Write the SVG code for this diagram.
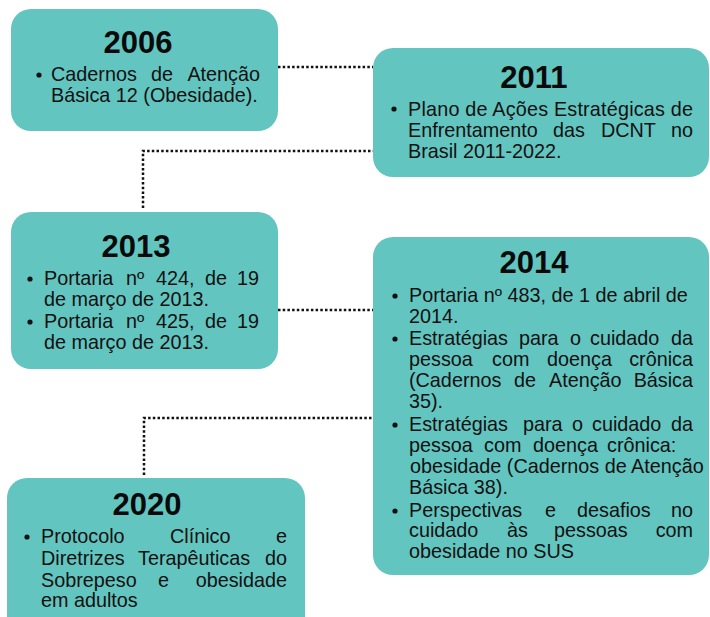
<svg xmlns="http://www.w3.org/2000/svg" width="710" height="617" viewBox="0 0 710 617">
<style>
.box{fill:#63C5C0}
.t{font-family:"Liberation Sans",Arial,sans-serif;font-weight:bold;font-size:31px;fill:#0a0a0a;text-anchor:middle}
.b{font-family:"Liberation Sans",Arial,sans-serif;font-size:19.8px;fill:#111}
.e{text-anchor:end}
.dot{fill:#111}
.c{fill:none;stroke:#111;stroke-width:2.5;stroke-dasharray:2.5 2.2}
</style>
<rect width="710" height="617" fill="#fff"/>
<g id="connectors">
<path class="c" d="M278 67 H373"/>
<path class="c" d="M143 208 V151 H373"/>
<path class="c" d="M278 310 H373"/>
<path class="c" d="M144 475 V418 H373"/>
</g>
<g id="n2006">
<rect class="box" x="11" y="9" width="267" height="122" rx="20"/>
<text class="t" x="138" y="53">2006</text>
<circle class="dot" cx="39" cy="75" r="2.6"/>
<text class="b" y="81"><tspan x="51">Cadernos</tspan><tspan x="151">de</tspan><tspan class="e" x="260">Atenção</tspan></text>
<text class="b" x="51" y="102">Básica 12 (Obesidade).</text>
</g>
<g id="n2011">
<rect class="box" x="373" y="48" width="336" height="129" rx="20"/>
<text class="t" x="534" y="88">2011</text>
<circle class="dot" cx="394" cy="109" r="2.6"/>
<text class="b" x="408" y="116" textLength="285" lengthAdjust="spacing">Plano de Ações Estratégicas de</text>
<text class="b" y="137"><tspan x="408">Enfrentamento</tspan><tspan x="553">das</tspan><tspan x="601">DCNT</tspan><tspan class="e" x="693">no</tspan></text>
<text class="b" x="408" y="158">Brasil 2011-2022.</text>
</g>
<g id="n2013">
<rect class="box" x="11" y="212" width="267" height="157" rx="20"/>
<text class="t" x="136" y="257">2013</text>
<circle class="dot" cx="30" cy="279" r="2.6"/>
<text class="b" y="285"><tspan x="44">Portaria</tspan><tspan x="126">nº</tspan><tspan x="156">424,</tspan><tspan x="205">de</tspan><tspan class="e" x="259">19</tspan></text>
<text class="b" x="44" y="306">de março de 2013.</text>
<circle class="dot" cx="30" cy="322" r="2.6"/>
<text class="b" y="328"><tspan x="44">Portaria</tspan><tspan x="126">nº</tspan><tspan x="156">425,</tspan><tspan x="205">de</tspan><tspan class="e" x="259">19</tspan></text>
<text class="b" x="44" y="349">de março de 2013.</text>
</g>
<g id="n2014">
<rect class="box" x="373" y="237" width="336" height="338" rx="20"/>
<text class="t" x="534" y="273">2014</text>
<circle class="dot" cx="395" cy="296" r="2.6"/>
<text class="b" x="409" y="302">Portaria nº 483, de 1 de abril de</text>
<text class="b" x="409" y="323">2014.</text>
<circle class="dot" cx="395" cy="339" r="2.6"/>
<text class="b" y="345"><tspan x="409">Estratégias</tspan><tspan x="519">para</tspan><tspan x="570">o</tspan><tspan x="590">cuidado</tspan><tspan class="e" x="693">da</tspan></text>
<text class="b" y="366"><tspan x="409">pessoa</tspan><tspan x="492">com</tspan><tspan x="547">doença</tspan><tspan class="e" x="693">crônica</tspan></text>
<text class="b" y="387"><tspan x="409">(Cadernos</tspan><tspan x="514">de</tspan><tspan x="549">Atenção</tspan><tspan class="e" x="693">Básica</tspan></text>
<text class="b" x="409" y="408">35).</text>
<circle class="dot" cx="395" cy="425" r="2.6"/>
<text class="b" y="431"><tspan x="409">Estratégias</tspan><tspan x="523">para</tspan><tspan x="572">o</tspan><tspan x="592">cuidado</tspan><tspan class="e" x="693">da</tspan></text>
<text class="b" y="452"><tspan x="409">pessoa</tspan><tspan x="484">com</tspan><tspan x="533">doença</tspan><tspan x="607">crônica:</tspan></text>
<text class="b" x="410" y="473">obesidade (Cadernos de Atenção</text>
<text class="b" x="409" y="494">Básica 38).</text>
<circle class="dot" cx="395" cy="511" r="2.6"/>
<text class="b" y="517"><tspan x="409">Perspectivas</tspan><tspan x="545">e</tspan><tspan x="577">desafios</tspan><tspan class="e" x="693">no</tspan></text>
<text class="b" y="537"><tspan x="409">cuidado</tspan><tspan x="507">às</tspan><tspan x="554">pessoas</tspan><tspan class="e" x="693">com</tspan></text>
<text class="b" x="409" y="558">obesidade no SUS</text>
</g>
<g id="n2020">
<rect class="box" x="7" y="478" width="298" height="160" rx="20"/>
<text class="t" x="147" y="515">2020</text>
<circle class="dot" cx="27" cy="537" r="2.6"/>
<text class="b" y="543"><tspan x="41">Protocolo</tspan><tspan x="170">Clínico</tspan><tspan class="e" x="287">e</tspan></text>
<text class="b" y="565"><tspan x="41">Diretrizes</tspan><tspan x="138">Terapêuticas</tspan><tspan class="e" x="287">do</tspan></text>
<text class="b" y="587"><tspan x="41">Sobrepeso</tspan><tspan x="158">e</tspan><tspan class="e" x="287">obesidade</tspan></text>
<text class="b" x="41" y="607">em adultos</text>
</g>
</svg>
